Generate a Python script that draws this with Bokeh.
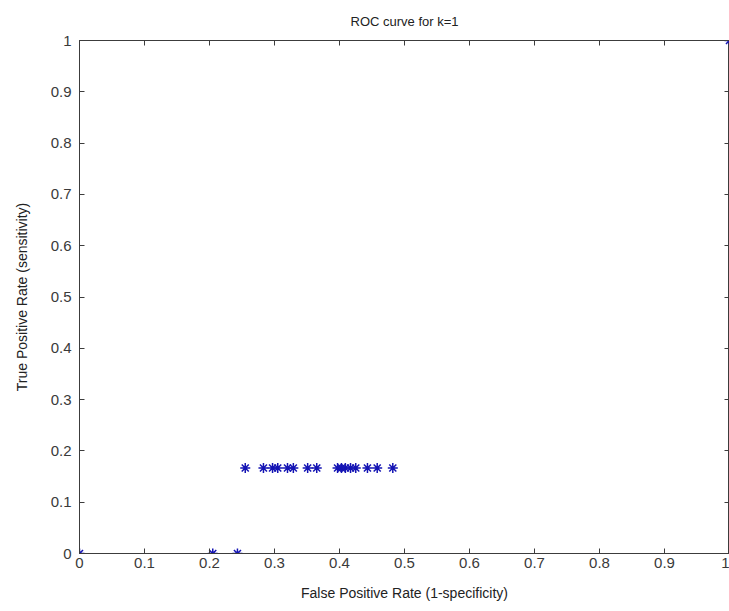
from bokeh.plotting import figure
from bokeh.models import LinearAxis, FixedTicker, Range1d, CustomJSTickFormatter
from bokeh.embed import file_html
from bokeh.resources import INLINE

# Data
fpr = [0.0, 0.205, 0.243,
       0.255, 0.283, 0.297, 0.305, 0.320, 0.329, 0.351, 0.365,
       0.397, 0.403, 0.409, 0.417, 0.425, 0.443, 0.458, 0.482,
       1.0]
tpr = [0.0, 0.0, 0.0,
       0.1667, 0.1667, 0.1667, 0.1667, 0.1667, 0.1667, 0.1667, 0.1667,
       0.1667, 0.1667, 0.1667, 0.1667, 0.1667, 0.1667, 0.1667, 0.1667,
       1.0]
ticks = [0, 0.1, 0.2, 0.3, 0.4, 0.5, 0.6, 0.7, 0.8, 0.9, 1]
tick_labels = ["0", "0.1", "0.2", "0.3", "0.4", "0.5", "0.6", "0.7", "0.8", "0.9", "1"]
overrides = {t: l for t, l in zip(ticks, tick_labels)}
title_text = "ROC curve for k=1"

FONT = "Liberation Sans"
AX = "#3c3c3c"

p = figure(width=729, height=611, output_backend="svg", toolbar_location=None,
           x_range=Range1d(0, 1), y_range=Range1d(0, 1),
           min_border_left=79, min_border_right=0, min_border_top=40, min_border_bottom=58,
           title=title_text)
p.title.align = "center"
p.title.text_font = FONT
p.title.text_font_size = "13px"
p.title.text_font_style = "normal"
p.title.text_color = "#222222"
p.title.standoff = 23
p.grid.visible = False
p.outline_line_color = AX
p.background_fill_color = "white"
p.border_fill_color = "white"

for ax in (p.xaxis[0], p.yaxis[0]):
    ax.ticker = FixedTicker(ticks=ticks)
    ax.major_label_overrides = overrides
    ax.major_tick_in = 5
    ax.major_tick_out = 0
    ax.minor_tick_line_color = None
    ax.axis_line_color = AX
    ax.major_tick_line_color = AX
    ax.major_label_text_font = FONT
    ax.major_label_text_font_size = "15px"
    ax.major_label_text_color = "#3a3a3a"
    ax.axis_label_text_font = FONT
    ax.axis_label_text_font_size = "14px"
    ax.axis_label_text_font_style = "normal"
    ax.axis_label_text_color = "#222222"

p.xaxis.major_label_standoff = 4
p.yaxis.major_label_standoff = 8
p.xaxis.axis_label = "False Positive Rate (1-specificity)"
p.yaxis.axis_label = "True Positive Rate (sensitivity)"
p.xaxis.axis_label_standoff = 14
p.yaxis.axis_label_standoff = 18

top = LinearAxis(ticker=FixedTicker(ticks=ticks), formatter=CustomJSTickFormatter(code="return ''"),
                 major_tick_in=5, major_tick_out=0, minor_tick_line_color=None,
                 axis_line_color=AX, major_tick_line_color=AX, major_label_standoff=0)
p.add_layout(top, "above")
right = LinearAxis(ticker=FixedTicker(ticks=ticks), formatter=CustomJSTickFormatter(code="return ''"),
                   major_tick_in=5, major_tick_out=0, minor_tick_line_color=None,
                   axis_line_color=None, major_tick_line_color=AX, major_label_standoff=0)
p.add_layout(right, "right")

p.scatter(fpr, tpr, marker="asterisk", size=10, line_color="#1414b4", line_width=1.5)

open("out.html", "w").write(file_html(p, INLINE))
